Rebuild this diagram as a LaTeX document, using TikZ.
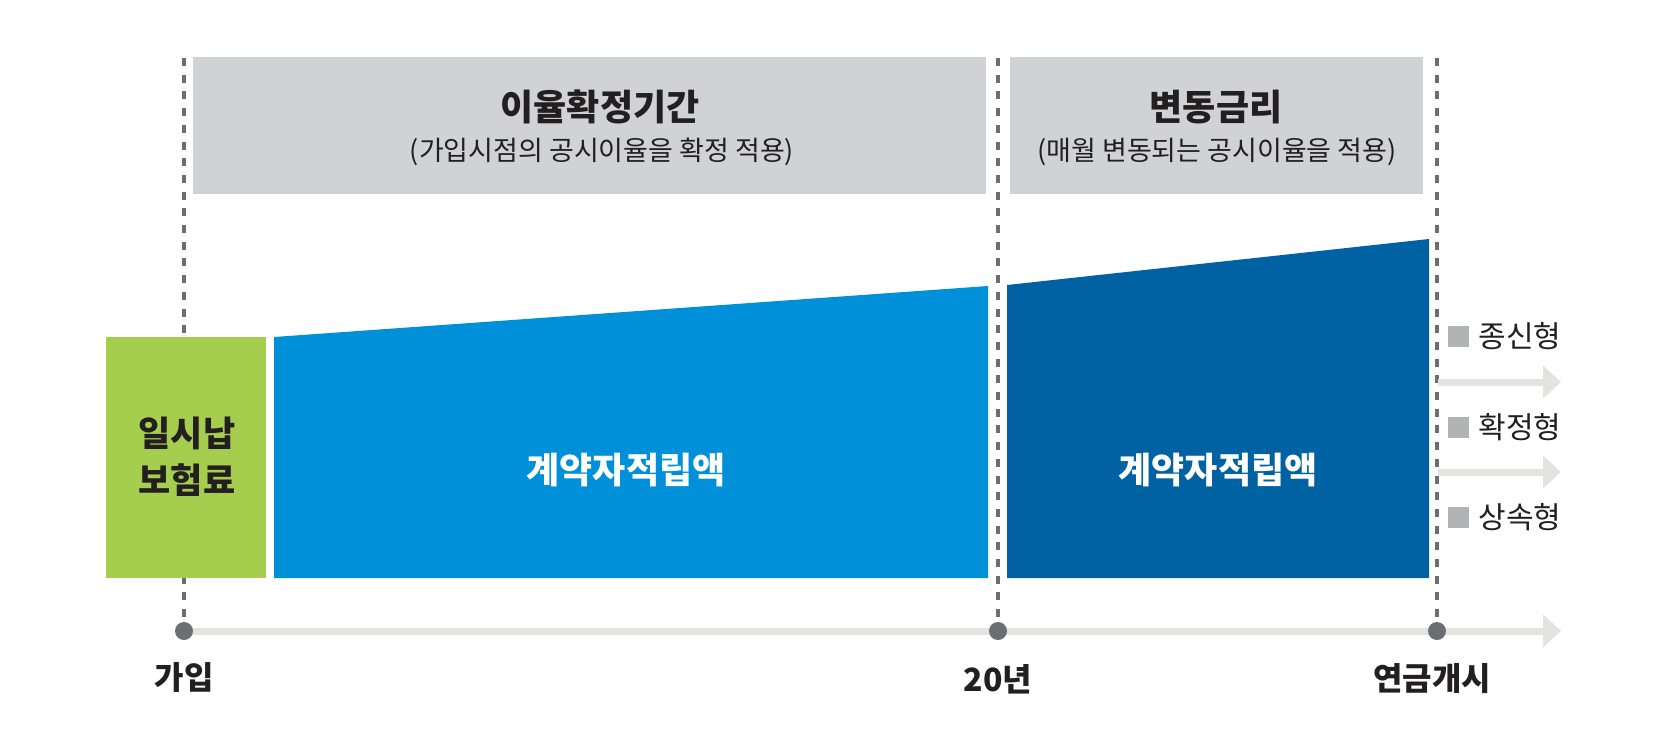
\documentclass[tikz,border=0pt]{standalone}
\usepackage{fontspec}
\setmainfont{Noto Sans CJK KR}
\usetikzlibrary{arrows.meta,positioning}

\definecolor{boxgray}{HTML}{D1D2D4}
\definecolor{lumpgreen}{HTML}{A6CE4E}
\definecolor{fixblue}{HTML}{0090D9}
\definecolor{floatblue}{HTML}{0062A2}
\definecolor{markgray}{HTML}{6D6E72}
\definecolor{axisgray}{HTML}{E3E3E1}
\definecolor{keygray}{HTML}{B2B3B5}
\definecolor{inkdark}{HTML}{231F20}

\begin{document}
\begin{tikzpicture}
[
x=1pt,y=-1pt,
period/.style={fill=boxgray,inner sep=0pt,minimum width=#1,minimum height=137pt,anchor=north west},
headline/.style={font={\bfseries\fontsize{36}{42}\selectfont},text=inkdark,inner sep=0pt},
subline/.style={font={\fontsize{27}{31}\selectfont},text=inkdark,inner sep=0pt},
guide/.style={markgray,line width=3.5pt,dash pattern=on 8pt off 8.7pt},
flow/.style={axisgray,line width=7pt,-{Triangle[length=18pt,width=32pt]}},
timedot/.style={circle,fill=markgray,inner sep=0pt,minimum size=18pt},
stamp/.style={font={\bfseries\fontsize{32}{36}\selectfont},text=inkdark,inner sep=0pt},
fundtext/.style={font={\bfseries\fontsize{36}{42}\selectfont},text=white,inner sep=0pt},
keybox/.style={fill=keygray,inner sep=0pt,minimum size=21pt},
keytext/.style={font={\fontsize{30}{34}\selectfont},text=inkdark,inner sep=0pt},
]
\useasboundingbox (0,0) rectangle (1672,741);

%Time points
\coordinate (join) at (184,631);
\coordinate (turn) at (998,631);
\coordinate (pay) at (1437,631);
\coordinate (joinTop) at (184,58);
\coordinate (turnTop) at (998,58);
\coordinate (payTop) at (1437,58);
\coordinate (axisEnd) at (1561,631);
\coordinate (outA) at (1438,382);
\coordinate (outAEnd) at (1561,382);
\coordinate (outB) at (1438,472);
\coordinate (outBEnd) at (1561,472);

%Dashed guides
\draw[guide] (joinTop) -- (join);
\draw[guide] (turnTop) -- (turn);
\draw[guide] (payTop) -- (pay);

%Rate periods
\node[period=793pt] (fixed) at (193,57) {};
\node[period=413pt] (floating) at (1010,57) {};
\node[headline] (fixedHead) at (600,107) {이율확정기간};
\node[subline] (fixedSub) at (602,152) {(가입시점의 공시이율을 확정 적용)};
\node[headline] (floatHead) at (1216,107) {변동금리};
\node[subline] (floatSub) at (1217,152) {(매월 변동되는 공시이율을 적용)};

%Premium and fund blocks
\fill[lumpgreen] (106,337) rectangle (266,578);
\node[stamp,align=center,font={\bfseries\fontsize{35}{47}\selectfont}] (lump) at (187,457) {일시납\\보험료};
\fill[fixblue] (274,337) -- (988,286) -- (988,578) -- (274,578) -- cycle;
\node[fundtext] (fundFixed) at (626,470) {계약자적립액};
\fill[floatblue] (1007,285) -- (1429,239) -- (1429,578) -- (1007,578) -- cycle;
\node[fundtext] (fundFloat) at (1218,470) {계약자적립액};

%Axis and payout arrows
\draw[flow] (join) -- (axisEnd);
\draw[flow] (outA) -- (outAEnd);
\draw[flow] (outB) -- (outBEnd);
\node[timedot] (joinDot) at (join) {};
\node[timedot] (turnDot) at (turn) {};
\node[timedot] (payDot) at (pay) {};

%Labels
\node[stamp] (joinLabel) at (184,677) {가입};
\node[stamp] (turnLabel) at (998,679) {20년};
\node[stamp] (payLabel) at (1432,679) {연금개시};

%Annuity types
\node[keybox] (lifeKey) at (1458.5,336) {};
\node[keytext,right=9pt of lifeKey] (lifeText) {종신형};
\node[keybox] (termKey) at (1458.5,427) {};
\node[keytext,right=9pt of termKey] (termText) {확정형};
\node[keybox] (heirKey) at (1458.5,517) {};
\node[keytext,right=9pt of heirKey] (heirText) {상속형};
\end{tikzpicture}
\end{document}
